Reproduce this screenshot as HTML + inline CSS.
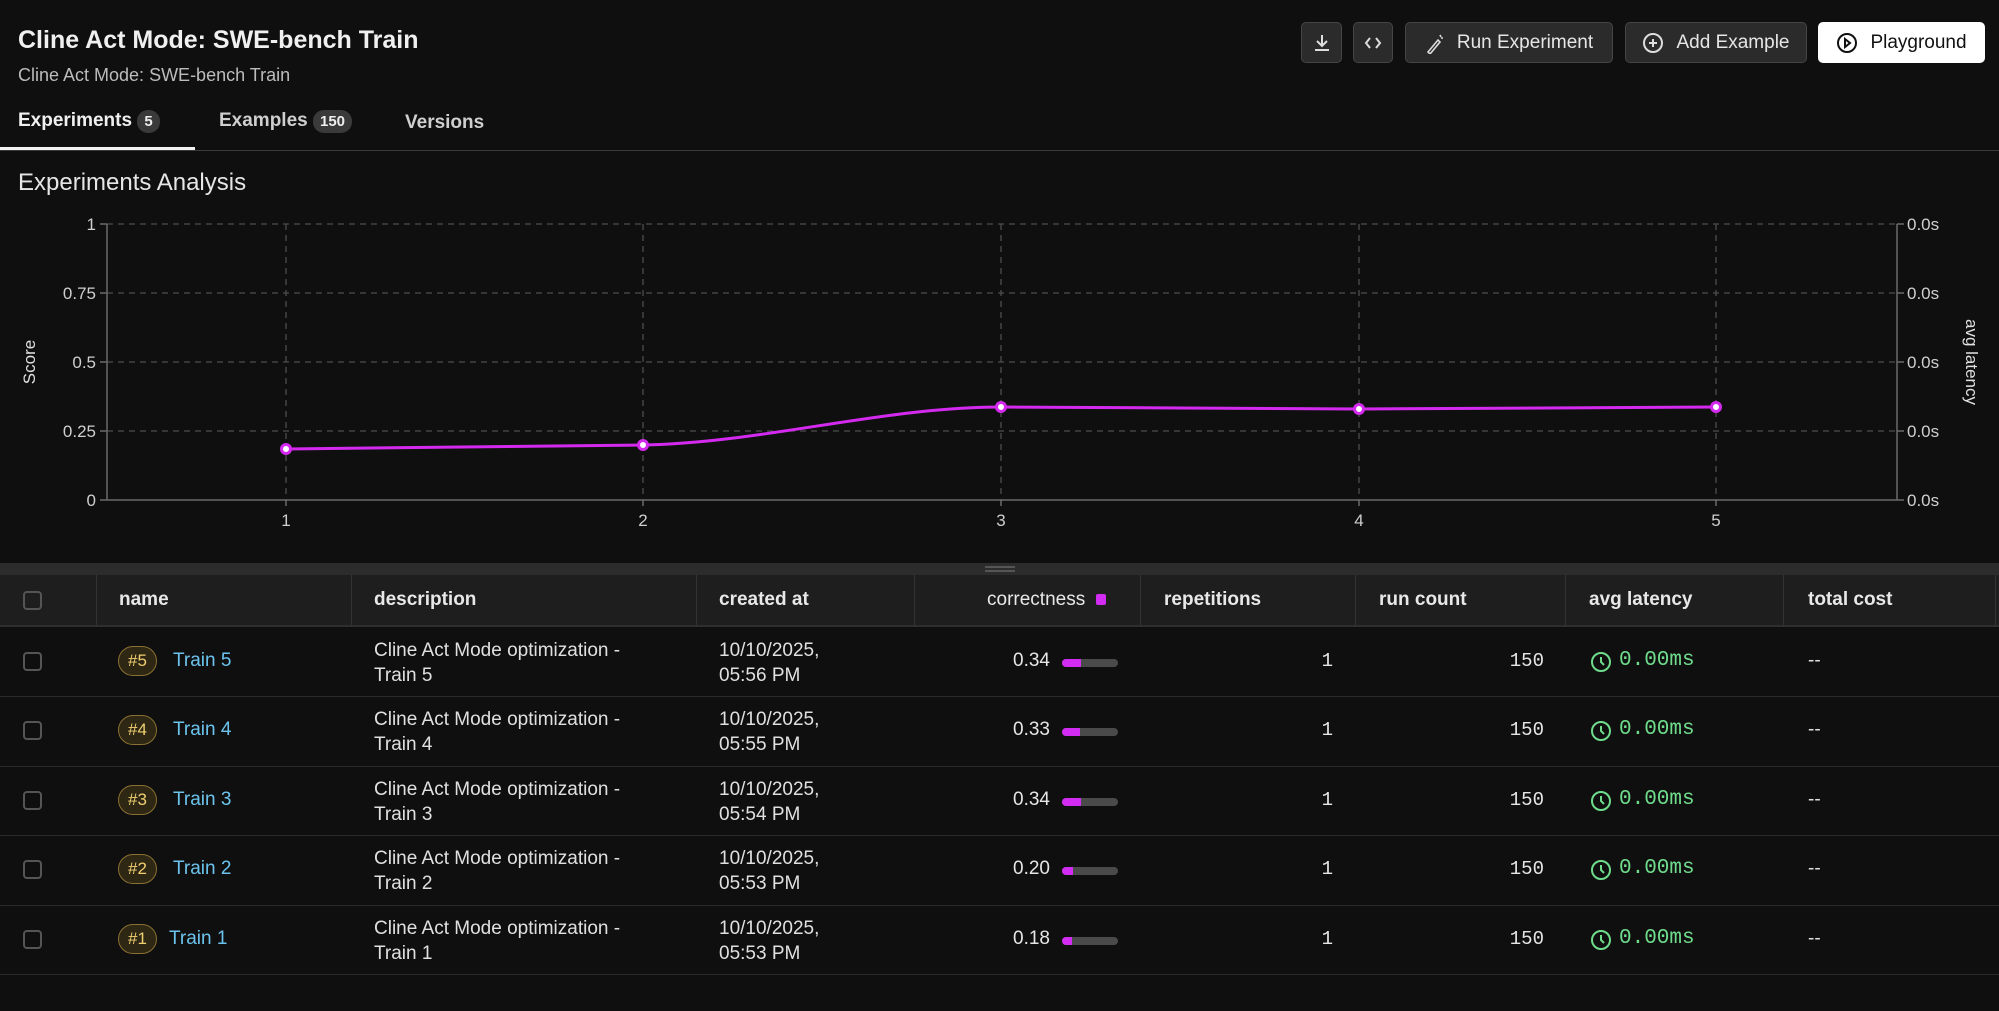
<!DOCTYPE html>
<html><head><meta charset="utf-8"><style>
*{box-sizing:border-box;margin:0;padding:0}
body{width:1999px;height:1011px;background:#0f0f0f;font-family:"Liberation Sans",sans-serif;color:#e6e6e6;position:relative;overflow:hidden}
.a{position:absolute;white-space:nowrap}
.btn{position:absolute;top:22px;height:41px;background:#2b2b2b;border:1px solid #454545;border-radius:5px;color:#e6e6e6;font-size:19px;display:flex;align-items:center;justify-content:center;gap:12px}
.badge{display:inline-block;background:#3a3a3a;border-radius:11px;font-size:15px;padding:3px 7px;font-weight:bold;color:#eee}
.hdr{position:absolute;left:0;top:575px;width:1999px;height:52px;background:#1e1e1e;border-bottom:2px solid #2e2e2e}
.vl{position:absolute;top:575px;height:52px;width:1px;background:#333}
.row{position:absolute;left:0;width:1999px;height:70px;border-bottom:1px solid #2a2a2a}
.cb{position:absolute;left:23px;width:19px;height:19px;border:2px solid #555;border-radius:4px}
.t{position:absolute;font-size:19px;color:#e0e0e0;white-space:nowrap}
.th{position:absolute;top:589px;font-size:19px;font-weight:bold;color:#e8e8e8}
.num{position:absolute;font-size:19px;text-align:right}
.mono{font-family:"Liberation Mono",monospace}
.tag{position:absolute;left:118px;height:30px;margin-top:-2px;padding:0 9px;border:1px solid #8a7032;background:#2e2714;border-radius:15px;color:#f0d070;font-size:17px;line-height:28px}
.bar{position:absolute;left:1062px;width:56px;height:8px;background:#4a4a4a;border-radius:4px;overflow:hidden}
.bar i{display:block;height:8px;background:#d22cf2}
</style></head><body>
<div class="a" style="left:18px;top:26px;font-size:25px;font-weight:bold;color:#f0f0f0">Cline Act Mode: SWE-bench Train</div>
<div class="a" style="left:18px;top:65px;font-size:18px;color:#bcbcbc">Cline Act Mode: SWE-bench Train</div>

<div class="btn" style="left:1301px;width:41px"><svg width="20" height="20" viewBox="0 0 20 20" fill="none" stroke="#ddd" stroke-width="2"><path d="M10 2v10M5 8l5 5 5-5M3 17h14"/></svg></div>
<div class="btn" style="left:1353px;width:40px"><svg width="20" height="20" viewBox="0 0 20 20" fill="none" stroke="#ddd" stroke-width="2"><path d="M7 5l-4 5 4 5M13 5l4 5-4 5"/></svg></div>
<div class="btn" style="left:1405px;width:208px"><svg width="20" height="22" viewBox="0 0 20 22" fill="none" stroke="#ddd" stroke-width="1.6"><path d="M3 20l10-12 2 2-10 12zM15 3l1 2M18 6l-2 0"/></svg>Run Experiment</div>
<div class="btn" style="left:1625px;width:182px"><svg width="22" height="22" viewBox="0 0 22 22" fill="none" stroke="#ddd" stroke-width="2"><circle cx="11" cy="11" r="9"/><path d="M11 7v8M7 11h8"/></svg>Add Example</div>
<div class="btn" style="left:1818px;width:167px;background:#fff;border-color:#fff;color:#111"><svg width="22" height="22" viewBox="0 0 22 22" fill="none" stroke="#111" stroke-width="2"><circle cx="11" cy="11" r="9"/><path d="M9 7l5 4-5 4z"/></svg>Playground</div>

<div class="a" style="left:18px;top:110px;font-size:19px;font-weight:bold;color:#f0f0f0">Experiments <span class="badge">5</span></div>
<div class="a" style="left:219px;top:110px;font-size:19px;font-weight:bold;color:#cfcfcf">Examples <span class="badge">150</span></div>
<div class="a" style="left:405px;top:112px;font-size:19px;font-weight:bold;color:#cfcfcf">Versions</div>
<div class="a" style="left:0;top:150px;width:1999px;height:1px;background:#3a3a3a"></div>
<div class="a" style="left:0;top:147px;width:195px;height:3px;background:#f2f2f2"></div>

<div class="a" style="left:18px;top:169px;font-size:24px;color:#e6e6e6">Experiments Analysis</div>

<svg class="a" style="left:0;top:0" width="1999" height="560" font-family="Liberation Sans" font-size="17" fill="#cfcfcf">
<g stroke="#4d4d4d" stroke-dasharray="6 5" stroke-width="1.3">
<line x1="107" y1="224" x2="1897" y2="224"/><line x1="107" y1="293" x2="1897" y2="293"/><line x1="107" y1="362" x2="1897" y2="362"/><line x1="107" y1="431" x2="1897" y2="431"/>
<line x1="286" y1="224" x2="286" y2="500"/><line x1="643" y1="224" x2="643" y2="500"/><line x1="1001" y1="224" x2="1001" y2="500"/><line x1="1359" y1="224" x2="1359" y2="500"/><line x1="1716" y1="224" x2="1716" y2="500"/>
</g>
<g stroke="#6a6a6a" stroke-width="1.5">
<line x1="107" y1="224" x2="107" y2="500"/><line x1="107" y1="500" x2="1897" y2="500"/><line x1="1897" y1="224" x2="1897" y2="500"/>
<line x1="100" y1="224" x2="107" y2="224"/><line x1="100" y1="293" x2="107" y2="293"/><line x1="100" y1="362" x2="107" y2="362"/><line x1="100" y1="431" x2="107" y2="431"/><line x1="100" y1="500" x2="107" y2="500"/>
<line x1="1897" y1="224" x2="1904" y2="224"/><line x1="1897" y1="293" x2="1904" y2="293"/><line x1="1897" y1="362" x2="1904" y2="362"/><line x1="1897" y1="431" x2="1904" y2="431"/><line x1="1897" y1="500" x2="1904" y2="500"/>
<line x1="286" y1="500" x2="286" y2="506"/><line x1="643" y1="500" x2="643" y2="506"/><line x1="1001" y1="500" x2="1001" y2="506"/><line x1="1359" y1="500" x2="1359" y2="506"/><line x1="1716" y1="500" x2="1716" y2="506"/>
</g>
<g text-anchor="end"><text x="96" y="230">1</text><text x="96" y="299">0.75</text><text x="96" y="368">0.5</text><text x="96" y="437">0.25</text><text x="96" y="506">0</text></g>
<g><text x="1907" y="230">0.0s</text><text x="1907" y="299">0.0s</text><text x="1907" y="368">0.0s</text><text x="1907" y="437">0.0s</text><text x="1907" y="506">0.0s</text></g>
<g text-anchor="middle"><text x="286" y="526">1</text><text x="643" y="526">2</text><text x="1001" y="526">3</text><text x="1359" y="526">4</text><text x="1716" y="526">5</text></g>
<text transform="translate(35,362) rotate(-90)" text-anchor="middle" fill="#e0e0e0">Score</text>
<text transform="translate(1966,362) rotate(90)" text-anchor="middle" fill="#e0e0e0">avg latency</text>
<path d="M286,449 C405,448 524,447 643,445 C762,443 882,407 1001,407 C1120,407 1240,409 1359,409 C1478,409 1597,408 1716,407" fill="none" stroke="#d42af0" stroke-width="3"/>
<g fill="#fff" stroke="#d42af0" stroke-width="3"><circle cx="286" cy="449" r="4.5"/><circle cx="643" cy="445" r="4.5"/><circle cx="1001" cy="407" r="4.5"/><circle cx="1359" cy="409" r="4.5"/><circle cx="1716" cy="407" r="4.5"/></g>
</svg>

<div class="a" style="left:0;top:563px;width:1999px;height:12px;background:#2c2c2c"></div>
<div class="a" style="left:985px;top:566px;width:30px;height:2px;background:#555"></div>
<div class="a" style="left:985px;top:570px;width:30px;height:2px;background:#555"></div>
<div class="hdr"></div>
<div class="vl" style="left:96px"></div><div class="vl" style="left:351px"></div><div class="vl" style="left:696px"></div><div class="vl" style="left:914px"></div><div class="vl" style="left:1140px"></div><div class="vl" style="left:1355px"></div><div class="vl" style="left:1565px"></div><div class="vl" style="left:1783px"></div><div class="vl" style="left:1995px"></div>
<div class="cb" style="top:591px"></div>
<div class="th" style="left:119px">name</div>
<div class="th" style="left:374px">description</div>
<div class="th" style="left:719px">created at</div>
<div class="th" style="left:987px;font-weight:normal">correctness <span style="display:inline-block;width:10px;height:11px;background:#d22cf2;border-radius:2px;margin-left:6px"></span></div>
<div class="th" style="left:1164px">repetitions</div>
<div class="th" style="left:1379px">run count</div>
<div class="th" style="left:1589px">avg latency</div>
<div class="th" style="left:1808px">total cost</div>

<div class="row" style="top:627px"></div>
<div class="row" style="top:697px"></div>
<div class="row" style="top:766px"></div>
<div class="row" style="top:836px"></div>
<div class="row" style="top:905px"></div>

<div class="cb" style="top:652px"></div><div class="tag" style="top:648px">#5</div><div class="t" style="left:173px;top:650px;color:#6cc4ee">Train 5</div>
<div class="t" style="left:374px;top:638px;line-height:25px">Cline Act Mode optimization -<br>Train 5</div>
<div class="t" style="left:719px;top:638px;line-height:25px">10/10/2025,<br>05:56 PM</div>
<div class="num" style="left:960px;width:90px;top:650px">0.34</div><div class="bar" style="top:659px"><i style="width:19px"></i></div>
<div class="num mono" style="left:1280px;width:53px;top:650px">1</div><div class="num mono" style="left:1450px;width:94px;top:650px">150</div>
<svg class="a" style="left:1590px;top:651px" width="22" height="22" viewBox="0 0 22 22" fill="none" stroke="#6fdc8c" stroke-width="2"><circle cx="11" cy="11" r="9"/><path d="M11 6v5l3 3"/></svg><div class="t mono" style="left:1619px;top:649px;color:#6fdc8c;font-size:21px">0.00ms</div><div class="t" style="left:1808px;top:650px">--</div>

<div class="cb" style="top:721px"></div><div class="tag" style="top:717px">#4</div><div class="t" style="left:173px;top:719px;color:#6cc4ee">Train 4</div>
<div class="t" style="left:374px;top:707px;line-height:25px">Cline Act Mode optimization -<br>Train 4</div>
<div class="t" style="left:719px;top:707px;line-height:25px">10/10/2025,<br>05:55 PM</div>
<div class="num" style="left:960px;width:90px;top:719px">0.33</div><div class="bar" style="top:728px"><i style="width:18px"></i></div>
<div class="num mono" style="left:1280px;width:53px;top:719px">1</div><div class="num mono" style="left:1450px;width:94px;top:719px">150</div>
<svg class="a" style="left:1590px;top:720px" width="22" height="22" viewBox="0 0 22 22" fill="none" stroke="#6fdc8c" stroke-width="2"><circle cx="11" cy="11" r="9"/><path d="M11 6v5l3 3"/></svg><div class="t mono" style="left:1619px;top:718px;color:#6fdc8c;font-size:21px">0.00ms</div><div class="t" style="left:1808px;top:719px">--</div>

<div class="cb" style="top:791px"></div><div class="tag" style="top:787px">#3</div><div class="t" style="left:173px;top:789px;color:#6cc4ee">Train 3</div>
<div class="t" style="left:374px;top:777px;line-height:25px">Cline Act Mode optimization -<br>Train 3</div>
<div class="t" style="left:719px;top:777px;line-height:25px">10/10/2025,<br>05:54 PM</div>
<div class="num" style="left:960px;width:90px;top:789px">0.34</div><div class="bar" style="top:798px"><i style="width:19px"></i></div>
<div class="num mono" style="left:1280px;width:53px;top:789px">1</div><div class="num mono" style="left:1450px;width:94px;top:789px">150</div>
<svg class="a" style="left:1590px;top:790px" width="22" height="22" viewBox="0 0 22 22" fill="none" stroke="#6fdc8c" stroke-width="2"><circle cx="11" cy="11" r="9"/><path d="M11 6v5l3 3"/></svg><div class="t mono" style="left:1619px;top:788px;color:#6fdc8c;font-size:21px">0.00ms</div><div class="t" style="left:1808px;top:789px">--</div>

<div class="cb" style="top:860px"></div><div class="tag" style="top:856px">#2</div><div class="t" style="left:173px;top:858px;color:#6cc4ee">Train 2</div>
<div class="t" style="left:374px;top:846px;line-height:25px">Cline Act Mode optimization -<br>Train 2</div>
<div class="t" style="left:719px;top:846px;line-height:25px">10/10/2025,<br>05:53 PM</div>
<div class="num" style="left:960px;width:90px;top:858px">0.20</div><div class="bar" style="top:867px"><i style="width:11px"></i></div>
<div class="num mono" style="left:1280px;width:53px;top:858px">1</div><div class="num mono" style="left:1450px;width:94px;top:858px">150</div>
<svg class="a" style="left:1590px;top:859px" width="22" height="22" viewBox="0 0 22 22" fill="none" stroke="#6fdc8c" stroke-width="2"><circle cx="11" cy="11" r="9"/><path d="M11 6v5l3 3"/></svg><div class="t mono" style="left:1619px;top:857px;color:#6fdc8c;font-size:21px">0.00ms</div><div class="t" style="left:1808px;top:858px">--</div>

<div class="cb" style="top:930px"></div><div class="tag" style="top:926px">#1</div><div class="t" style="left:169px;top:928px;color:#6cc4ee">Train 1</div>
<div class="t" style="left:374px;top:916px;line-height:25px">Cline Act Mode optimization -<br>Train 1</div>
<div class="t" style="left:719px;top:916px;line-height:25px">10/10/2025,<br>05:53 PM</div>
<div class="num" style="left:960px;width:90px;top:928px">0.18</div><div class="bar" style="top:937px"><i style="width:10px"></i></div>
<div class="num mono" style="left:1280px;width:53px;top:928px">1</div><div class="num mono" style="left:1450px;width:94px;top:928px">150</div>
<svg class="a" style="left:1590px;top:929px" width="22" height="22" viewBox="0 0 22 22" fill="none" stroke="#6fdc8c" stroke-width="2"><circle cx="11" cy="11" r="9"/><path d="M11 6v5l3 3"/></svg><div class="t mono" style="left:1619px;top:927px;color:#6fdc8c;font-size:21px">0.00ms</div><div class="t" style="left:1808px;top:928px">--</div>
</body></html>
